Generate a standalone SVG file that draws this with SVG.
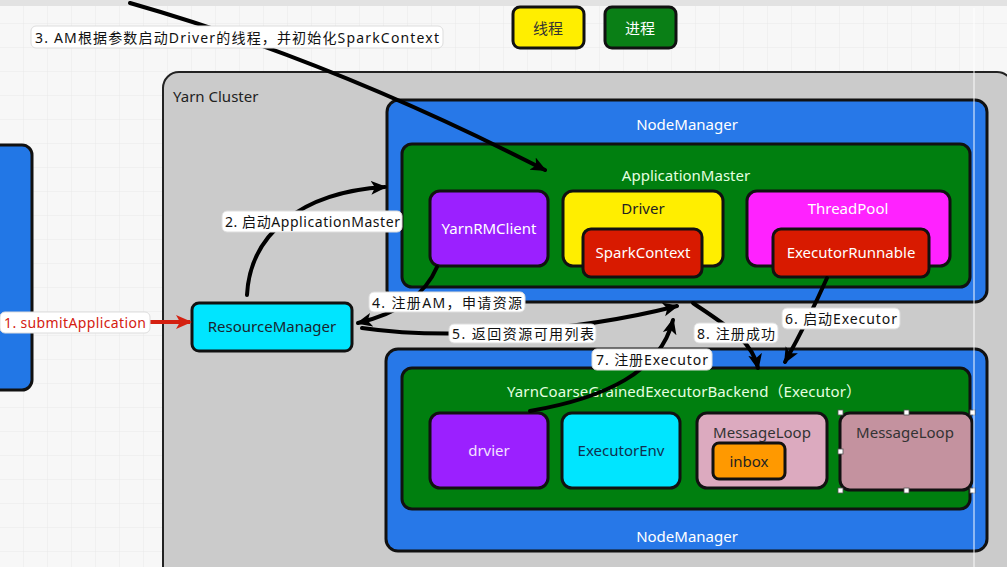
<svg xmlns="http://www.w3.org/2000/svg" width="1007" height="567" viewBox="0 0 1007 567">
<defs>
<pattern id="grid" width="24" height="24" patternUnits="userSpaceOnUse">
<path d="M24 0V24H0" fill="none" stroke="#e9e9e9" stroke-width="1"/>
</pattern>
<marker id="ah" viewBox="0 0 16 16" refX="14" refY="8" markerWidth="16" markerHeight="16" markerUnits="userSpaceOnUse" orient="auto">
<path d="M0 1 L16 8 L0 15 L4 8 Z" fill="#000"/>
</marker>
<marker id="ahr" viewBox="0 0 16 16" refX="14" refY="8" markerWidth="16" markerHeight="16" markerUnits="userSpaceOnUse" orient="auto">
<path d="M0 1 L16 8 L0 15 L4 8 Z" fill="#d42010"/>
</marker>
</defs>
<style>
text{font-family:"Noto Sans","Liberation Sans","Noto Sans CJK SC",sans-serif;font-size:15px;text-anchor:middle;dominant-baseline:central}
.box{stroke:#111;stroke-width:3}
.w{fill:#ffffff}
.lg{fill:#e6ffe0}
.dk{fill:#1a2530}
.lbl{fill:#fff;stroke:#ddd;stroke-width:1}
.lt{fill:#111;text-anchor:start;font-size:14px}
.con{fill:none;stroke:#000;stroke-width:4;stroke-linecap:round}
</style>
<rect width="1007" height="567" fill="#f7f7f7"/>
<rect width="1007" height="567" fill="url(#grid)"/>
<rect x="0" y="0" width="1007" height="6" fill="#e2e2e2"/>

<g id="legend-thread"><rect class="box" x="513" y="7" width="71" height="41" rx="7" fill="#ffee00" stroke-width="2"/><text x="548" y="28" fill="#333" font-size="14">线程</text></g>
<g id="legend-process"><rect class="box" x="605" y="7" width="71" height="41" rx="7" fill="#0a7f16" stroke-width="2"/><text x="640" y="28" class="w" font-size="14">进程</text></g>

<g id="client"><rect class="box" x="-20" y="145" width="52" height="245" rx="10" fill="#2277e6"/></g>

<g id="yarn-cluster"><rect x="163" y="72" width="850" height="520" rx="16" fill="#cbcbcb" stroke="#222" stroke-width="2"/><text x="173" y="96" style="text-anchor:start" fill="#222">Yarn Cluster</text></g>

<g id="nodemanager-1"><rect class="box" x="387" y="100" width="600" height="202" rx="12" fill="#2778e8"/><text x="687" y="124" class="w">NodeManager</text></g>
<g id="application-master"><rect class="box" x="402" y="144" width="568" height="143" rx="10" fill="#007f0f"/><text x="686" y="175" class="lg">ApplicationMaster</text></g>
<g id="yarnrmclient"><rect class="box" x="430" y="191" width="118" height="75" rx="10" fill="#9b20ff"/><text x="489" y="228" class="w">YarnRMClient</text></g>
<g id="driver"><rect class="box" x="563" y="191" width="160" height="75" rx="10" fill="#ffee00"/><text x="643" y="208" fill="#222">Driver</text></g>
<g id="sparkcontext"><rect class="box" x="583" y="229" width="119" height="48" rx="8" fill="#d81a00"/><text x="643" y="252" class="w">SparkContext</text></g>
<g id="threadpool"><rect class="box" x="747" y="191" width="203" height="75" rx="10" fill="#ff22ff"/><text x="848" y="208" class="w">ThreadPool</text></g>
<g id="executorrunnable"><rect class="box" x="773" y="229" width="156" height="48" rx="8" fill="#d81a00"/><text x="851" y="252" class="w">ExecutorRunnable</text></g>

<g id="resourcemanager"><rect class="box" x="192" y="303" width="160" height="48" rx="7" fill="#00e5ff" stroke-width="2.5"/><text x="272" y="326" class="dk">ResourceManager</text></g>

<g id="nodemanager-2"><rect class="box" x="386" y="349" width="601" height="202" rx="12" fill="#2778e8"/><text x="687" y="536" class="w">NodeManager</text></g>
<g id="executor-backend"><rect class="box" x="402" y="368" width="568" height="141" rx="10" fill="#007f0f"/><text x="684" y="391" class="lg" textLength="354" lengthAdjust="spacing">YarnCoarseGrainedExecutorBackend（Executor）</text></g>
<g id="drvier"><rect class="box" x="430" y="413" width="118" height="75" rx="10" fill="#9b20ff"/><text x="489" y="450" fill="#f3e3ff">drvier</text></g>
<g id="executorenv"><rect class="box" x="562" y="413" width="118" height="75" rx="10" fill="#00e5ff"/><text x="621" y="450" fill="#10304f">ExecutorEnv</text></g>
<g id="messageloop-1"><rect class="box" x="697" y="413" width="130" height="75" rx="10" fill="#dcaabf"/><text x="762" y="432" fill="#333">MessageLoop</text></g>
<g id="inbox"><rect class="box" x="713" y="443" width="72" height="36" rx="6" fill="#ff9900"/><text x="749" y="461" fill="#222">inbox</text></g>
<g id="messageloop-2"><rect class="box" x="840" y="413" width="132" height="77" rx="10" fill="#c4929f"/><text x="905" y="432" fill="#333">MessageLoop</text>
<g fill="#fff" stroke="#555" stroke-width="0.8"><rect x="838" y="410" width="5" height="5"/><rect x="904" y="410" width="5" height="5"/><rect x="970" y="410" width="5" height="5"/><rect x="838" y="449" width="5" height="5"/><rect x="838" y="488" width="5" height="5"/><rect x="904" y="488" width="5" height="5"/><rect x="970" y="488" width="5" height="5"/></g></g>

<line x1="974" y1="8" x2="974" y2="567" stroke="#ffffff" stroke-width="1.2" opacity="0.8"/>

<g id="connectors">
<path class="con" d="M 130 3 Q 330 60 545 170" marker-end="url(#ah)"/>
<path d="M 34 322 L 190 322" fill="none" stroke="#d42010" stroke-width="4" marker-end="url(#ahr)"/>
<path class="con" d="M 247 295 C 250 235 300 192 385 187" marker-end="url(#ah)"/>
<path class="con" d="M 437 267 C 425 295 400 313 358 323" marker-end="url(#ah)"/>
<path class="con" d="M 362 328 C 430 338 560 336 677 306" marker-end="url(#ah)"/>
<path class="con" d="M 530 411 C 605 398 660 372 673 320" marker-end="url(#ah)"/>
<path class="con" d="M 693 303 C 725 325 752 340 758 368" marker-end="url(#ah)"/>
<path class="con" d="M 827 278 C 815 305 800 335 785 362" marker-end="url(#ah)"/>

<g id="label-3"><rect class="lbl" x="31" y="26" width="412" height="22" rx="5"/><text x="35" y="37" class="lt" font-size="15" textLength="404" lengthAdjust="spacing">3. AM根据参数启动Driver的线程，并初始化SparkContext</text></g>
<g id="label-1"><rect class="lbl" x="0" y="312" width="150" height="21" rx="5"/><text x="4" y="322.5" class="lt" style="fill:#d42010" textLength="142" lengthAdjust="spacing">1. submitApplication</text></g>
<g id="label-2"><rect class="lbl" x="222" y="211" width="180" height="21" rx="5"/><text x="225" y="221.5" class="lt" textLength="175" lengthAdjust="spacing">2. 启动ApplicationMaster</text></g>
<g id="label-4"><rect class="lbl" x="369" y="292" width="156" height="20" rx="5"/><text x="372" y="302" class="lt" textLength="150" lengthAdjust="spacing">4. 注册AM，申请资源</text></g>
<g id="label-5"><rect class="lbl" x="449" y="324" width="147" height="19" rx="5"/><text x="452" y="333.5" class="lt" textLength="142" lengthAdjust="spacing">5. 返回资源可用列表</text></g>
<g id="label-7"><rect class="lbl" x="592" y="349" width="120" height="21" rx="5"/><text x="596" y="359.5" class="lt" textLength="112" lengthAdjust="spacing">7. 注册Executor</text></g>
<g id="label-8"><rect class="lbl" x="694" y="323" width="84" height="20" rx="5"/><text x="697" y="333" class="lt" textLength="78" lengthAdjust="spacing">8. 注册成功</text></g>
<g id="label-6"><rect class="lbl" x="782" y="308" width="118" height="21" rx="5"/><text x="785" y="318.5" class="lt" textLength="112" lengthAdjust="spacing">6. 启动Executor</text></g>
</g>
</svg>
